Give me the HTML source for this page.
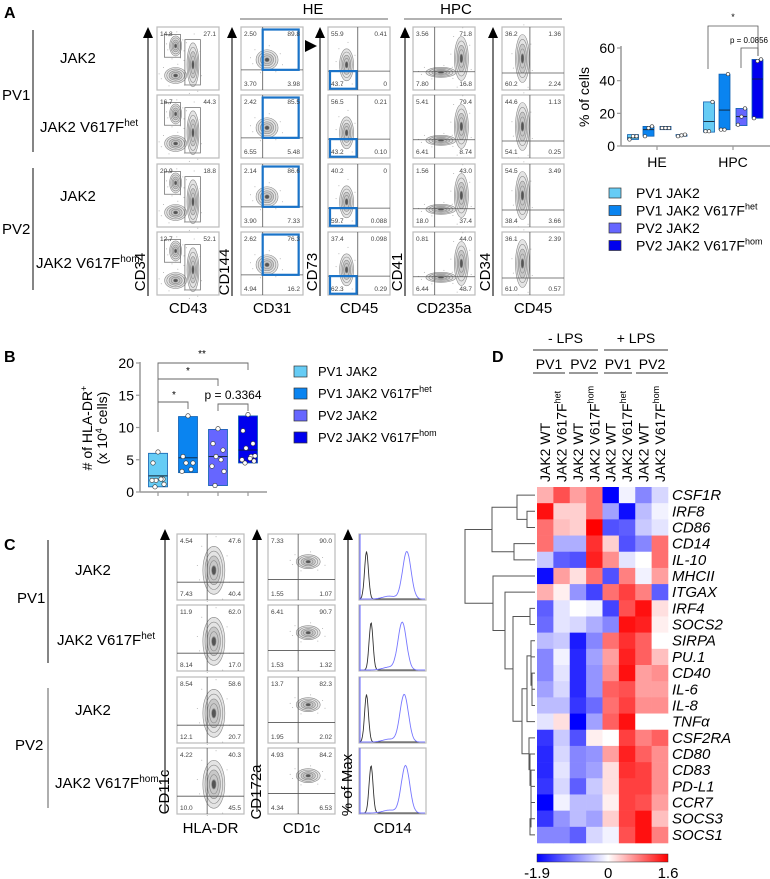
<!DOCTYPE html>
<html><head><meta charset="utf-8">
<style>
html,body{margin:0;padding:0;background:#fff;}
svg{display:block;font-family:"Liberation Sans",Arial,sans-serif;}
</style></head>
<body>
<svg id="fig" width="770" height="879" viewBox="0 0 770 879" xmlns="http://www.w3.org/2000/svg">
<defs>
<linearGradient id="cbar" x1="0" x2="1" y1="0" y2="0">
<stop offset="0" stop-color="#0000ff"/><stop offset="0.543" stop-color="#ffffff"/><stop offset="1" stop-color="#ff0000"/>
</linearGradient>
</defs>

<text x="4" y="18" font-size="16" font-weight="bold">A</text>
<text x="4" y="362" font-size="16" font-weight="bold">B</text>
<text x="4" y="550" font-size="16" font-weight="bold">C</text>
<text x="492" y="362" font-size="16" font-weight="bold">D</text>

<g font-size="15">
<line x1="33" y1="30" x2="33" y2="152" stroke="#333" stroke-width="1.2"/>
<line x1="33" y1="168" x2="33" y2="290" stroke="#333" stroke-width="1.2"/>
<text x="2" y="100">PV1</text>
<text x="60" y="63">JAK2</text>
<text x="40" y="132">JAK2 V617F<tspan font-size="10" dy="-6">het</tspan></text>
<text x="2" y="234">PV2</text>
<text x="60" y="201">JAK2</text>
<text x="36" y="268">JAK2 V617F<tspan font-size="10" dy="-6">hom</tspan></text>
</g>
<g>
<text x="313" y="14" font-size="15" text-anchor="middle">HE</text>
<line x1="240" y1="19" x2="388" y2="19" stroke="#999" stroke-width="1.5"/>
</g>
<g>
<text x="456" y="14" font-size="15" text-anchor="middle">HPC</text>
<line x1="404" y1="19" x2="562" y2="19" stroke="#999" stroke-width="1.5"/>
</g>
<polygon points="305,40 317,46 305,52" fill="#000"/>

<g id="flowA"></g>
<g id="flowC"></g>

<g font-size="15">
<line x1="48" y1="540" x2="48" y2="663" stroke="#333" stroke-width="1.2"/>
<line x1="48" y1="688" x2="48" y2="808" stroke="#777" stroke-width="1.2"/>
<text x="17" y="603">PV1</text>
<text x="75" y="575">JAK2</text>
<text x="57" y="645">JAK2 V617F<tspan font-size="10" dy="-6">het</tspan></text>
<text x="15" y="750">PV2</text>
<text x="75" y="715">JAK2</text>
<text x="55" y="788">JAK2 V617F<tspan font-size="10" dy="-6">hom</tspan></text>
</g>

<g id="chartA"></g>
<g id="chartB"></g>
<g id="heat"></g>
</svg>

<script>
const NS="http://www.w3.org/2000/svg";
function mk(parent,tag,attrs,text){const e=document.createElementNS(NS,tag);for(const k in attrs)e.setAttribute(k,attrs[k]);if(text!==undefined)e.textContent=text;parent.appendChild(e);return e;}

const aGroups=["HE","HPC"];
const aSeries=["PV1 JAK2","PV1 JAK2 V617Fhet","PV2 JAK2","PV2 JAK2 V617Fhom"];
const aMin=[[4,6,10,6],[8.5,10,12.5,17]];
const aMax=[[7,12,12,7],[27,44,23,53]];
const aMed=[[5,10,11,6.5],[15,22,18,41]];
const aPts=[[[4,6,6],[6,11,12],[11,11,11],[6,6.5,7]],[[9,9,27],[10,10,44],[13,18,23],[17,52,53]]];
const aTicks=[0,20,40,60];
const colors=["#66ccf5","#0a84f0","#6666ff","#0000ee"];

const bMin=[0.8,3,1,4.5];
const bMax=[6,11.7,9.7,11.8];
const bMed=[2.5,5.3,5.5,6.5];
const bPts=[[6.2,4.5,2,1.8,2,1.8,1.2,0.8],[11.8,5.5,4.5,4.5,3.5,3.2],[9.8,7.5,6.5,5.5,5,4,3.2,1],[12,9.5,7.5,6.8,5.5,5,4.8,4.5,5.2,5.6]];
const bTicks=[0,5,10,15,20];

const genes=["CSF1R","IRF8","CD86","CD14","IL-10","MHCII","ITGAX","IRF4","SOCS2","SIRPA","PU.1","CD40","IL-6","IL-8","TNFα","CSF2RA","CD80","CD83","PD-L1","CCR7","SOCS3","SOCS1"];
const samples=["JAK2 WT","JAK2 V617Fhet","JAK2 WT","JAK2 V617Fhom","JAK2 WT","JAK2 V617Fhet","JAK2 WT","JAK2 V617Fhom"];
const heatVals=[
[0.5,1.1,0.6,0.9,-1.9,-0.1,-0.9,-0.3],
[1.5,0.3,0.3,0.9,-0.7,-1.8,-0.5,-0.1],
[0.9,0.4,0.3,1.6,-1.3,-1.2,-0.4,-0.2],
[0.9,-0.6,-0.6,1.3,0.3,-1.3,-0.9,0.9],
[-0.4,-1.2,-1.3,1.4,0.7,-0.2,0,0.9],
[-1.8,0.6,0.2,0.9,-1.3,0.8,-0.1,0.6],
[0.5,0.1,-0.8,-1.4,0.9,1.2,0.8,-1.2],
[-1.2,-0.2,0,-0.1,-1.4,1.1,1.5,0.2],
[-1.1,-0.2,-0.3,-0.6,-0.9,1.5,1.4,0.1],
[-0.5,-0.4,-1.7,-0.9,0.9,1.3,1.0,0],
[-0.9,-0.1,-1.6,-0.7,0.6,1.4,1.0,0.4],
[-0.9,-0.2,-1.6,-0.8,0.7,1.5,0.6,0.7],
[-0.7,-0.3,-1.6,-0.8,1.0,1.1,0.6,0.6],
[-0.5,-0.5,-1.5,-1.1,0.9,1.2,0.7,0.7],
[-0.2,0.2,-1.9,-0.7,1.0,1.5,0,0],
[-1.5,-0.4,-1.3,0.1,0,1.2,0.8,1.0],
[-1.6,-0.3,-0.9,-0.8,0.6,1.4,1.0,0.7],
[-1.6,-0.2,-0.9,-0.7,0.2,1.3,1.2,0.7],
[-1.5,-0.3,-1.2,-0.4,0.2,1.2,1.2,0.7],
[-1.9,-0.1,-0.5,-0.5,0.1,1.2,1.1,0.6],
[-1.5,-0.8,-0.5,-0.7,0.3,1.2,1.5,0.4],
[-0.9,-0.9,-1.2,-0.3,-0.1,1.1,1.5,0.8]];
const cbarMin=-1.9, cbarMax=1.6;

const flowA1=[["14.8","27.1"],["16.7","44.3"],["20.9","18.8"],["12.7","52.1"]];
const flowA2=[["2.50","89.8","3.70","3.98"],["2.42","85.5","6.55","5.48"],["2.14","86.6","3.90","7.33"],["2.62","76.3","4.94","16.2"]];
const flowA3=[["55.9","0.41","43.7","0"],["56.5","0.21","43.2","0.10"],["40.2","0","59.7","0.088"],["37.4","0.098","62.3","0.29"]];
const flowA4=[["3.56","71.8","7.80","16.8"],["5.41","79.4","6.41","8.74"],["1.56","43.0","18.0","37.4"],["0.81","44.0","6.44","48.7"]];
const flowA5=[["36.2","1.36","60.2","2.24"],["44.6","1.13","54.1","0.25"],["54.5","3.49","38.4","3.66"],["36.1","2.39","61.0","0.57"]];
const flowC1=[["4.54","47.6","7.43","40.4"],["11.9","62.0","8.14","17.0"],["8.54","58.6","12.1","20.7"],["4.22","40.3","10.0","45.5"]];
const flowC2=[["7.33","90.0","1.55","1.07"],["6.41","90.7","1.53","1.32"],["13.7","82.3","1.95","2.02"],["4.93","84.2","4.34","6.53"]];

function blob(g,cx,cy,rx,ry){
  const dots=[[-1.3,0.4],[1.2,-0.6],[-0.6,1.3],[0.8,1.2],[1.4,0.5],[-1.1,-1.0],[0.2,-1.4],[-1.5,-0.2]];
  dots.forEach(d=>mk(g,"circle",{cx:cx+d[0]*rx,cy:cy+d[1]*ry,r:0.5,fill:"#aaa"}));
  for(let i=5;i>=1;i--){
    mk(g,"ellipse",{cx:cx,cy:cy,rx:rx*i/5,ry:ry*i/5,fill:i==5?"#e4e4e4":(i==3?"#c8c8c8":"none"),stroke:"#8a8a8a","stroke-width":0.6});
  }
  mk(g,"ellipse",{cx:cx,cy:cy,rx:rx*0.18,ry:ry*0.18,fill:"#555"});
}
function quadPanel(g,x,y,w,h,name){
  const p=mk(g,"g",{});
  
  
  mk(p,"rect",{x:x,y:y,width:w,height:h,fill:"#fff",stroke:"#bbb","stroke-width":1.2});
  return p;
}
function quadLines(p,x,y,w,h,vx,hy){
  if(vx!==null) mk(p,"line",{x1:x+w*vx,y1:y,x2:x+w*vx,y2:y+h,stroke:"#555","stroke-width":0.8});
  if(hy!==null) mk(p,"line",{x1:x,y1:y+h*hy,x2:x+w,y2:y+h*hy,stroke:"#555","stroke-width":0.8});
}
function quadNums(p,x,y,w,h,n){
  const fs=6.5;
  mk(p,"text",{x:x+3,y:y+9,"font-size":fs,fill:"#444"},n[0]);
  mk(p,"text",{x:x+w-3,y:y+9,"font-size":fs,fill:"#444","text-anchor":"end"},n[1]);
  if(n.length>2){
    mk(p,"text",{x:x+3,y:y+h-4,"font-size":fs,fill:"#444"},n[2]);
    mk(p,"text",{x:x+w-3,y:y+h-4,"font-size":fs,fill:"#444","text-anchor":"end"},n[3]);
  }
}
function axisArrow(g,x,y1,y2,name){
  const a=mk(g,"g",{});
  
  
  mk(a,"line",{x1:x,y1:y1,x2:x,y2:y2,stroke:"#222","stroke-width":1.2});
  mk(a,"polygon",{points:`${x-5},${y1+2} ${x},${y1-9} ${x+5},${y1+2}`,fill:"#000"});
}
function rotLabel(g,x,y,t,name,fs){
  const e=mk(g,"text",{x:x,y:y,"font-size":fs||14,"text-anchor":"middle",transform:`rotate(-90 ${x} ${y})`},t);
  
  
  return e;
}
function label(g,x,y,t,name,fs){
  const e=mk(g,"text",{x:x,y:y,"font-size":fs||14,"text-anchor":"middle"},t);
  
  
  return e;
}

(function(){
  const g=document.getElementById("flowA");
  const rowsY=[27,95,164,232], h=63, w=62;
  const colsX=[157,241,328,413,502];
  const arrows=[148,232,320,405,493];
  const xl=["CD43","CD31","CD45","CD235a","CD45"];
  const yl=["CD34","CD144","CD73","CD41","CD34"];
  arrows.forEach((ax,i)=>{axisArrow(g,ax,36,296,"panel-a-yaxis-arrow-"+(i+1));
    rotLabel(g,ax-3,272,yl[i],"panel-a-ylabel-"+yl[i].toLowerCase(),15);
    label(g,colsX[i]+w/2,313,xl[i],"panel-a-xlabel-"+xl[i].toLowerCase(),15);});
  rowsY.forEach((y,r)=>{
    let x=colsX[0];
    let p=quadPanel(g,x,y,w,h,"flow-a-cd43-row"+(r+1));
    blob(p,x+w*0.3,y+h*0.3,6,10);blob(p,x+w*0.3,y+h*0.77,11,8);blob(p,x+w*0.58,y+h*0.6,6,22);
    mk(p,"rect",{x:x+w*0.12,y:y+h*0.12,width:w*0.26,height:h*0.36,fill:"none",stroke:"#777","stroke-width":0.8});
    mk(p,"rect",{x:x+w*0.45,y:y+h*0.2,width:w*0.25,height:h*0.72,fill:"none",stroke:"#777","stroke-width":0.8});
    quadNums(p,x,y,w,h,flowA1[r]);
    x=colsX[1];
    p=quadPanel(g,x,y,w,h,"flow-a-cd31-row"+(r+1));
    blob(p,x+w*0.42,y+h*0.52,11,10);quadLines(p,x,y,w,h,0.35,0.68);
    mk(p,"rect",{x:x+w*0.35,y:y+h*0.04,width:w*0.58,height:h*0.64,fill:"none",stroke:"#1a73c8","stroke-width":2.2});
    quadNums(p,x,y,w,h,flowA2[r]);
    x=colsX[2];
    p=quadPanel(g,x,y,w,h,"flow-a-cd45-row"+(r+1));
    blob(p,x+w*0.3,y+h*0.6,7,16);quadLines(p,x,y,w,h,0.48,0.7);
    mk(p,"rect",{x:x+2,y:y+h*0.7,width:w*0.46-2,height:h*0.28,fill:"none",stroke:"#1a73c8","stroke-width":2.2});
    quadNums(p,x,y,w,h,flowA3[r]);
    x=colsX[3];
    p=quadPanel(g,x,y,w,h,"flow-a-cd235a-row"+(r+1));
    blob(p,x+w*0.45,y+h*0.72,15,5);blob(p,x+w*0.78,y+h*0.5,7,22);quadLines(p,x,y,w,h,0.35,0.71);
    quadNums(p,x,y,w,h,flowA4[r]);
    x=colsX[4];
    p=quadPanel(g,x,y,w,h,"flow-a-cd45b-row"+(r+1));
    blob(p,x+w*0.33,y+h*0.5,7,24);quadLines(p,x,y,w,h,0.45,0.73);
    quadNums(p,x,y,w,h,flowA5[r]);
  });
})();

(function(){
  const g=document.getElementById("flowC");
  const rowsY=[534,605,677,748], h=66, w=67;
  const colsX=[177,268,359];
  const arrows=[165,257,348];
  const xl=["HLA-DR","CD1c","CD14"];
  const yl=["CD11c","CD172a","% of Max"];
  arrows.forEach((ax,i)=>{axisArrow(g,ax,538,812,"panel-c-yaxis-arrow-"+(i+1));
    rotLabel(g,ax+4,i==2?785:792,yl[i],"panel-c-ylabel-"+(i+1),15);
    label(g,colsX[i]+w/2,833,xl[i],"panel-c-xlabel-"+(i+1),15);});
  function gauss(c,s,x){return Math.exp(-((x-c)*(x-c))/(2*s*s));}
  const histBlackC=[0.1,0.17,0.1,0.17], histBlueC=[0.72,0.65,0.68,0.7];
  rowsY.forEach((y,r)=>{
    let x=colsX[0];
    let p=quadPanel(g,x,y,w,h,"flow-c-hladr-row"+(r+1));
    blob(p,x+w*0.55,y+h*0.55,11,24);quadLines(p,x,y,w,h,0.45,0.73);
    quadNums(p,x,y,w,h,flowC1[r]);
    x=colsX[1];
    p=quadPanel(g,x,y,w,h,"flow-c-cd1c-row"+(r+1));
    blob(p,x+w*0.6,y+h*0.42,12,7);quadLines(p,x,y,w,h,0.45,0.69);
    quadNums(p,x,y,w,h,flowC2[r]);
    x=colsX[2];
    p=quadPanel(g,x,y,w,h,"flow-c-cd14-histogram-row"+(r+1));
    mk(p,"line",{x1:x+1,y1:y,x2:x+1,y2:y+h,stroke:"#66f","stroke-width":1});
    let pb="",pl="";
    for(let i=0;i<=80;i++){const t=i/80;const xx=x+1+t*(w-2);
      const vb=gauss(histBlackC[r],0.03,t);const vl=gauss(histBlueC[r],0.065,t)+0.06*gauss(0.45,0.1,t);
      pb+=(i?"L":"M")+xx.toFixed(1)+","+(y+h-1-vb*h*0.72).toFixed(1);
      pl+=(i?"L":"M")+xx.toFixed(1)+","+(y+h-1-vl*h*0.72).toFixed(1);}
    mk(p,"path",{d:pb,fill:"none",stroke:"#333","stroke-width":0.9});
    mk(p,"path",{d:pl,fill:"none",stroke:"#7777ff","stroke-width":0.9});
  });
})();

(function(){
  const g=document.getElementById("chartA");
  const ax0=621, axR=770, y0=146, y60=48;
  const ys=v=>y0-(v/60)*(y0-y60);
  const groupX=[657,733], offs=[-24,-8.5,8.5,24.5], bw=11;
  mk(g,"line",{x1:ax0,y1:y60-2,x2:ax0,y2:y0,stroke:"#999","stroke-width":1.5});
  mk(g,"line",{x1:ax0,y1:y0,x2:axR,y2:y0,stroke:"#999","stroke-width":1.5});
  aTicks.forEach(t=>{mk(g,"line",{x1:ax0-4,y1:ys(t),x2:ax0,y2:ys(t),stroke:"#999","stroke-width":1.2});
    const e=mk(g,"text",{x:ax0-6,y:ys(t)+5,"font-size":14,"text-anchor":"end"},t);
    
    });
  rotLabel(g,589,97,"% of cells","a-y-axis-title",14);
  aGroups.forEach((grp,gi)=>{
    mk(g,"line",{x1:groupX[gi],y1:y0,x2:groupX[gi],y2:y0+4,stroke:"#999","stroke-width":1.2});
    label(g,groupX[gi],y0+21,grp,"a-xtick-"+grp.toLowerCase(),14);
    aSeries.forEach((s,si)=>{
      const cx=groupX[gi]+offs[si];
      const r=mk(g,"rect",{x:cx-bw/2,y:ys(aMax[gi][si]),width:bw,height:Math.max(1,ys(aMin[gi][si])-ys(aMax[gi][si])),fill:colors[si],stroke:"#1060b0","stroke-width":0.8});
      
      
      mk(g,"line",{x1:cx-bw/2,y1:ys(aMed[gi][si]),x2:cx+bw/2,y2:ys(aMed[gi][si]),stroke:"#123","stroke-width":0.9});
      aPts[gi][si].forEach((v,k)=>{
        const c=mk(g,"circle",{cx:cx+(k-1)*3.5,cy:ys(v),r:1.7,fill:"#fff",stroke:"#333","stroke-width":0.6});
        
        
      });
    });
  });
  mk(g,"path",{d:"M708,69 V26 H758 V56",fill:"none",stroke:"#555","stroke-width":0.8});
  mk(g,"text",{x:733,y:20,"font-size":9,"text-anchor":"middle"},"*");
  mk(g,"path",{d:"M741,68 V48 H758 V56",fill:"none",stroke:"#555","stroke-width":0.8});
  mk(g,"text",{x:749,y:43,"font-size":8,"text-anchor":"middle"},"p = 0.0856");
  const lg=mk(g,"g",{});
  
  
  const labs=[["PV1 JAK2",""],["PV1 JAK2 V617F","het"],["PV2 JAK2",""],["PV2 JAK2 V617F","hom"]];
  labs.forEach((l,i)=>{const y=193+i*17.5;
    const it=mk(lg,"g",{});
    
    
    mk(it,"rect",{x:609,y:y-5,width:12,height:10,fill:colors[i],stroke:"#333","stroke-width":0.7});
    const t=mk(it,"text",{x:636,y:y+5,"font-size":14},l[0]);
    if(l[1]){mk(t,"tspan",{"font-size":9,dy:-6},l[1]);}
  });
})();

(function(){
  const g=document.getElementById("chartB");
  const ax0=140, axR=267, y0=492, y20=363;
  const ys=v=>y0-(v/20)*(y0-y20);
  const cx=[158,188,218,248], bw=19;
  mk(g,"line",{x1:ax0,y1:y20-1,x2:ax0,y2:y0,stroke:"#999","stroke-width":1.5});
  mk(g,"line",{x1:ax0,y1:y0,x2:axR,y2:y0,stroke:"#999","stroke-width":1.5});
  bTicks.forEach(t=>{mk(g,"line",{x1:ax0-4,y1:ys(t),x2:ax0,y2:ys(t),stroke:"#999","stroke-width":1.2});
    const e=mk(g,"text",{x:ax0-6,y:ys(t)+5,"font-size":14,"text-anchor":"end"},t);
    
    });
  const yt=mk(g,"text",{x:92,y:428,"font-size":14,"text-anchor":"middle",transform:"rotate(-90 92 428)"},"# of HLA-DR");
  mk(yt,"tspan",{"font-size":9,dy:-5},"+");
  
  
  const yt2=mk(g,"text",{x:107,y:428,"font-size":14,"text-anchor":"middle",transform:"rotate(-90 107 428)"},"(x 10");
  mk(yt2,"tspan",{"font-size":9,dy:-5},"4");
  mk(yt2,"tspan",{dy:5}," cells)");
  
  
  cx.forEach((x,i)=>{
    mk(g,"line",{x1:x,y1:y0,x2:x,y2:y0+4,stroke:"#999","stroke-width":1.2});
    const r=mk(g,"rect",{x:x-bw/2,y:ys(bMax[i]),width:bw,height:ys(bMin[i])-ys(bMax[i]),fill:colors[i],stroke:"#1060b0","stroke-width":0.8});
    
    
    mk(g,"line",{x1:x-bw/2,y1:ys(bMed[i]),x2:x+bw/2,y2:ys(bMed[i]),stroke:"#123","stroke-width":0.9});
    const jit=[0,-5,5,-2,3,-6,6,-3,2,7];
    bPts[i].forEach((v,k)=>{
      const c=mk(g,"circle",{cx:x+jit[k%jit.length],cy:ys(v),r:2.2,fill:"#fff",stroke:"#333","stroke-width":0.6});
      
      
    });
  });
  mk(g,"path",{d:"M158,432 V363 H248 V370",fill:"none",stroke:"#666","stroke-width":0.9});
  mk(g,"text",{x:202,y:357,"font-size":10,"text-anchor":"middle"},"**");
  mk(g,"path",{d:"M158,379 H218 V386",fill:"none",stroke:"#666","stroke-width":0.9});
  mk(g,"text",{x:188,y:374,"font-size":10,"text-anchor":"middle"},"*");
  mk(g,"path",{d:"M158,402 H188 V409",fill:"none",stroke:"#666","stroke-width":0.9});
  mk(g,"text",{x:174,y:398,"font-size":10,"text-anchor":"middle"},"*");
  mk(g,"path",{d:"M218,411 V404 H248 V411",fill:"none",stroke:"#666","stroke-width":0.9});
  mk(g,"text",{x:233,y:399,"font-size":12,"text-anchor":"middle"},"p = 0.3364");
  const lg=mk(g,"g",{});
  
  
  const labs=[["PV1 JAK2",""],["PV1 JAK2 V617F","het"],["PV2 JAK2",""],["PV2 JAK2 V617F","hom"]];
  labs.forEach((l,i)=>{const y=371+i*22;
    const it=mk(lg,"g",{});
    
    
    mk(it,"rect",{x:294,y:y-5,width:13,height:11,fill:colors[i],stroke:"#333","stroke-width":0.7});
    const t=mk(it,"text",{x:318,y:y+5,"font-size":13},l[0]);
    if(l[1]){mk(t,"tspan",{"font-size":9,dy:-6},l[1]);}
  });
})();

(function(){
  const g=document.getElementById("heat");
  const x0=537, x1=668, y0=487, y1=843;
  const cw=(x1-x0)/samples.length, rh=(y1-y0)/genes.length;
  function col(v){
    let r,gg,b;
    if(v<0){const t=Math.min(1,-v/(-cbarMin));r=Math.round(255*(1-t));gg=r;b=255;}
    else{const t=Math.min(1,v/cbarMax);r=255;gg=Math.round(255*(1-t));b=gg;}
    return `rgb(${r},${gg},${b})`;
  }
  genes.forEach((gn,i)=>{
    samples.forEach((s,j)=>{
      const c=mk(g,"rect",{x:x0+j*cw,y:y0+i*rh,width:cw+0.3,height:rh+0.3,fill:col(heatVals[i][j])});
      
      
    });
    const t=mk(g,"text",{x:672,y:y0+i*rh+rh/2+5,"font-size":15,"font-style":"italic"},gn);
    
    
  });
  samples.forEach((s,j)=>{
    const cx=x0+j*cw+cw/2+5;
    const base=s.replace(/(het|hom)$/,"");
    const sup=s.slice(base.length);
    const t=mk(g,"text",{x:cx,y:482,"font-size":14,transform:`rotate(-90 ${cx} 482)`},base);
    if(sup) mk(t,"tspan",{"font-size":9,dy:-6},sup);
    
    
  });
  const hdr=[["- LPS",533,598,343],["+ LPS",604,668,343]];
  hdr.forEach((h,i)=>{const t=mk(g,"text",{x:(h[1]+h[2])/2,y:h[3],"font-size":14,"text-anchor":"middle"},h[0]);
    
    
    mk(g,"line",{x1:h[1],y1:350,x2:h[2],y2:350,stroke:"#333","stroke-width":1});});
  const sub=[["PV1",533,565],["PV2",569,598],["PV1",604,632],["PV2",636,668]];
  sub.forEach((h,i)=>{const t=mk(g,"text",{x:(h[1]+h[2])/2,y:369,"font-size":14,"text-anchor":"middle"},h[0]);
    
    
    mk(g,"line",{x1:h[1],y1:373,x2:h[2],y2:373,stroke:"#333","stroke-width":1});});
  const tree=[465,[492,[517,0,[527,1,2]],[514,3,4]],[493,5,[505,6,[513,[530,7,8],[522,[527,[531,9,[531,10,[532,11,[532,12,13]]]],14],[529,15,[530,16,[531,17,[531,18,[531,19,[530,20,21]]]]]]]]]]];
  const dg=mk(g,"g",{});
  
  
  function draw(n){
    if(typeof n==="number") return {x:535,y:y0+n*rh+rh/2};
    const a=draw(n[1]), b=draw(n[2]), x=n[0];
    mk(dg,"path",{d:`M${a.x},${a.y} H${x} V${b.y} H${b.x}`,fill:"none",stroke:"#555","stroke-width":1});
    return {x:x,y:(a.y+b.y)/2};
  }
  draw(tree);
  const cb=mk(g,"rect",{x:x0,y:854,width:x1-x0,height:8,fill:"url(#cbar)",stroke:"#333","stroke-width":0.5});
  
  
  const cbl=[[cbarMin,"-1.9"],[0,"0"],[cbarMax,"1.6"]];
  cbl.forEach((c,i)=>{const xx=x0+(c[0]-cbarMin)/(cbarMax-cbarMin)*(x1-x0);
    const t=mk(g,"text",{x:xx,y:878,"font-size":15,"text-anchor":"middle"},c[1]);
    
    });
})();
</script>
</body></html>
